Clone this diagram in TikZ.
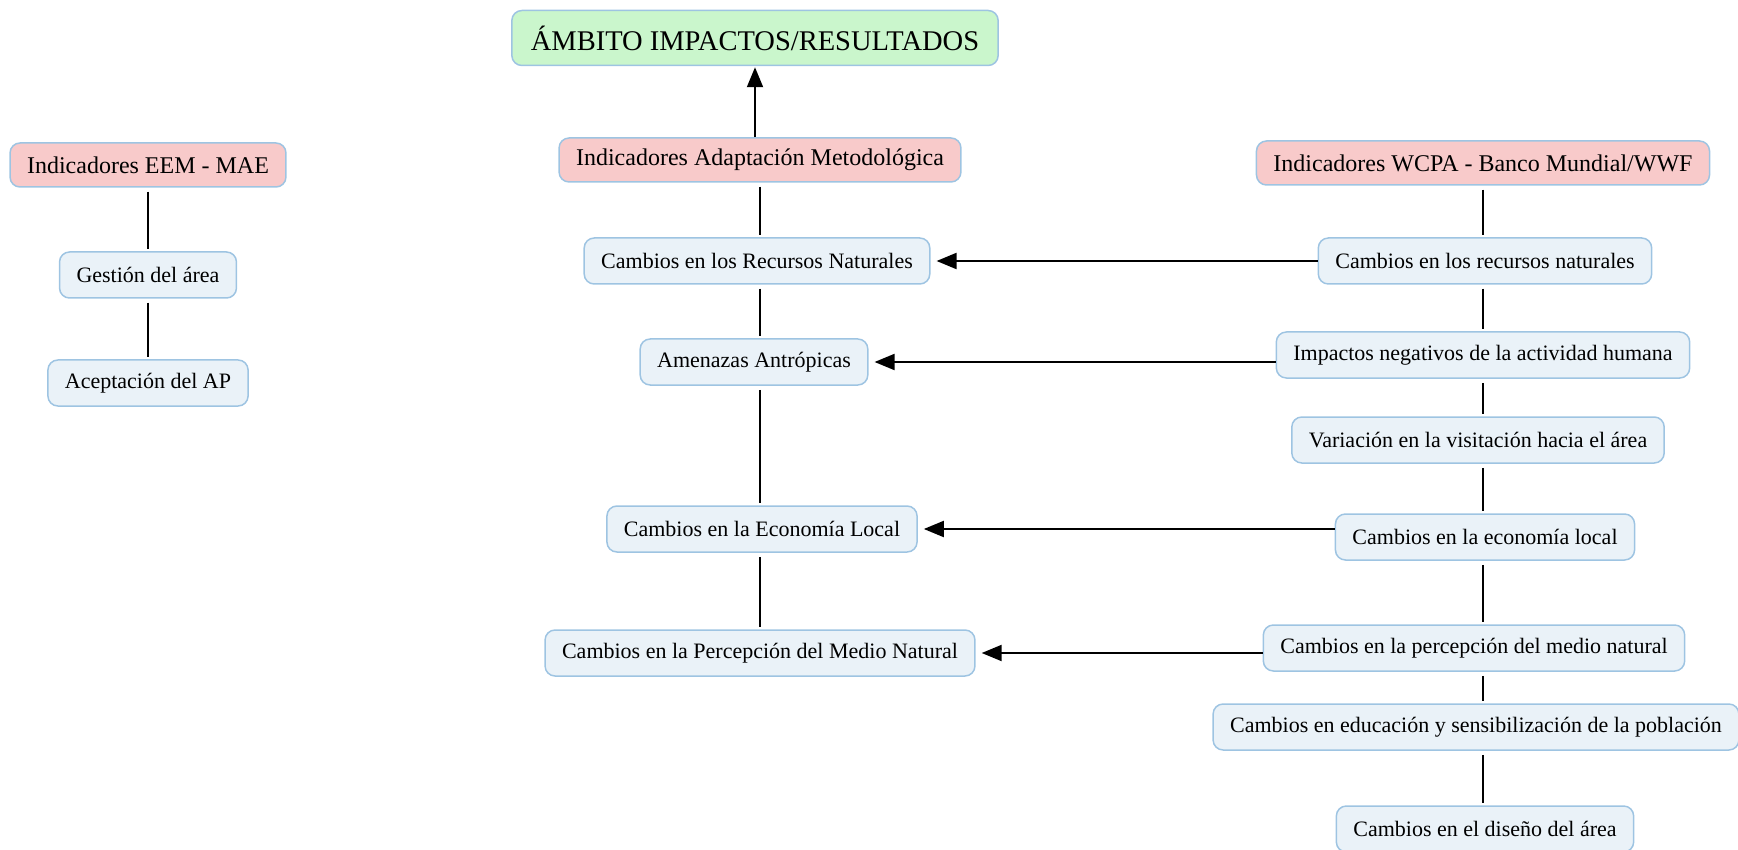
\documentclass[tikz,border=0pt]{standalone}
\usepackage{fontspec}
\setmainfont{Liberation Serif}
\usepackage{tikz}
\usetikzlibrary{arrows.meta}
\usepackage{xcolor}

\definecolor{boxline}{RGB}{158,196,226}
\definecolor{itemfill}{RGB}{234,242,248}
\definecolor{headfill}{RGB}{248,202,202}
\definecolor{titlefill}{RGB}{202,246,204}

\tikzset{
	itembox/.style={draw=boxline, line width=1.5pt, fill=itemfill, rounded corners=10pt, inner xsep=17pt, minimum height=46pt, font=\fontsize{22}{24}\selectfont},
	headbox/.style={itembox, fill=headfill, minimum height=44pt, font=\fontsize{24}{26}\selectfont},
	titlebox/.style={itembox, fill=titlefill, minimum height=55pt, inner xsep=19pt, font=\fontsize{28.5}{32}\selectfont},
	treeline/.style={line width=2pt, shorten <=4pt, shorten >=2pt},
	feedarrow/.style={line width=2pt, -{Triangle[length=20pt,width=16pt]}, shorten >=6pt}
}

\begin{document}
\begin{tikzpicture}[x=1pt, y=-1pt]
	\useasboundingbox (0,0) rectangle (1738,850);
	
	\node[titlebox] (ambito) at (755, 38) {ÁMBITO IMPACTOS/RESULTADOS};
	
	%left column
	\node[headbox] (eem) at (148, 165) {Indicadores EEM - MAE};
	\node[itembox] (gestion) at (148, 275) {Gestión del área};
	\node[itembox] (aceptacion) at (148, 383) {Aceptación del AP};
	
	%middle column
	\node[headbox] (adaptacion) at (760, 160) {Indicadores Adaptación Metodológica};
	\node[itembox] (recursosA) at (757, 261) {Cambios en los Recursos Naturales};
	\node[itembox] (amenazas) at (754, 362) {Amenazas Antrópicas};
	\node[itembox] (economiaA) at (762, 529) {Cambios en la Economía Local};
	\node[itembox] (percepcionA) at (760, 653) {Cambios en la Percepción del Medio Natural};
	
	%right column
	\node[headbox] (wcpa) at (1483, 163) {Indicadores WCPA - Banco Mundial/WWF};
	\node[itembox] (recursosB) at (1485, 261) {Cambios en los recursos naturales};
	\node[itembox] (impactos) at (1483, 355) {Impactos negativos de la actividad humana};
	\node[itembox] (visitacion) at (1478, 440) {Variación en la visitación hacia el área};
	\node[itembox] (economiaB) at (1485, 537) {Cambios en la economía local};
	\node[itembox] (percepcionB) at (1474, 648) {Cambios en la percepción del medio natural};
	\node[itembox] (educacion) at (1476, 727) {Cambios en educación y sensibilización de la población};
	\node[itembox] (diseno) at (1485, 829) {Cambios en el diseño del área};
	
	\draw[treeline] (eem.south) -- (eem.south |- gestion.north);
	\draw[treeline] (gestion.south -| eem.south) -- (eem.south |- aceptacion.north);
	
	\draw[treeline] (adaptacion.south) -- (adaptacion.south |- recursosA.north);
	\draw[treeline] (recursosA.south -| adaptacion.south) -- (adaptacion.south |- amenazas.north);
	\draw[treeline] (amenazas.south -| adaptacion.south) -- (adaptacion.south |- economiaA.north);
	\draw[treeline] (economiaA.south -| adaptacion.south) -- (adaptacion.south |- percepcionA.north);
	
	\draw[treeline] (wcpa.south) -- (wcpa.south |- recursosB.north);
	\draw[treeline] (recursosB.south -| wcpa.south) -- (wcpa.south |- impactos.north);
	\draw[treeline] (impactos.south -| wcpa.south) -- (wcpa.south |- visitacion.north);
	\draw[treeline] (visitacion.south -| wcpa.south) -- (wcpa.south |- economiaB.north);
	\draw[treeline] (economiaB.south -| wcpa.south) -- (wcpa.south |- percepcionB.north);
	\draw[treeline] (percepcionB.south -| wcpa.south) -- (wcpa.south |- educacion.north);
	\draw[treeline] (educacion.south -| wcpa.south) -- (wcpa.south |- diseno.north);
	
	\draw[feedarrow, shorten >=1pt] (adaptacion.north -| ambito.south) -- (ambito.south);
	\draw[feedarrow] (recursosB.west |- recursosA.east) -- (recursosA.east);
	\draw[feedarrow] (impactos.west |- amenazas.east) -- (amenazas.east);
	\draw[feedarrow] (economiaB.west |- economiaA.east) -- (economiaA.east);
	\draw[feedarrow] (percepcionB.west |- percepcionA.east) -- (percepcionA.east);
	
\end{tikzpicture}
\end{document}
